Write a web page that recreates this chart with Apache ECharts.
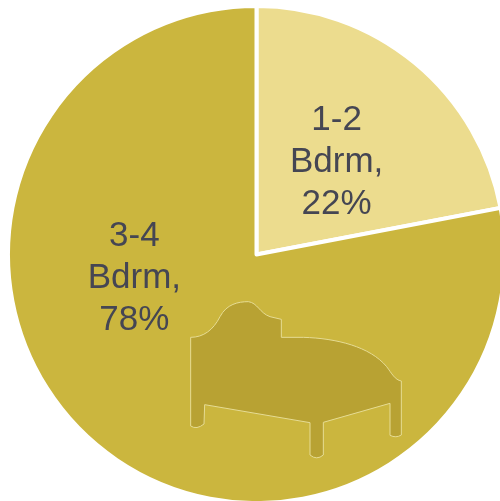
<!DOCTYPE html>
<html><head><meta charset="utf-8">
<style>html,body{margin:0;padding:0;background:#fff}#c{width:500px;height:501px}</style>
<script src="https://cdn.jsdelivr.net/npm/echarts@6/dist/echarts.min.js"></script>
</head><body><div id="c"></div>
<script>
const categories = ['1-2\nBdrm,', '3-4\nBdrm,'];
const values = [22, 78];
const colors = ['#ECDC8E', '#CBB63E'];
const labelOffsets = [[-1, 6], [-41, -74]];
const bedPath = 'M62 172 C100 172 130 150 150 110 C170 72 205 65 235 65 C262 68 270 100 300 110 L334 118 L334 172 L400 172 C500 175 600 200 650 260 C665 280 675 300 694 303 L694 465 Q678 475 660 466 L660 370 L460 427 L460 525 Q440 542 420 525 L420 428 L104 374 L102 432 Q80 450 62 438 Z';
echarts.graphic.registerShape('bedIcon', echarts.graphic.extendPath(bedPath, {}));
const chart = echarts.init(document.getElementById('c'), null, {renderer:'canvas'});
chart.setOption({
  animation:false,
  series:[{
    type:'pie', center:[256.5,254.5], radius:[0,248.5], startAngle:90, clockwise:true,
    itemStyle:{borderColor:'#fff',borderWidth:4},
    label:{position:'inside',formatter:p=>p.name+'\n'+p.value+'%',fontFamily:'Liberation Sans',fontSize:35,lineHeight:42,color:'#454653',align:'center'},
    labelLine:{show:false},
    emphasis:{disabled:true},
    data:categories.map((n,i)=>({name:n,value:values[i],itemStyle:{color:colors[i]},label:{offset:labelOffsets[i]}}))
  }],
  graphic:[{type:'bedIcon',x:170,y:280,scaleX:1/3,scaleY:1/3,z:10,silent:true,style:{fill:'#B8A233',stroke:'#E6DC94',lineWidth:3}}]
});
</script></body></html>
